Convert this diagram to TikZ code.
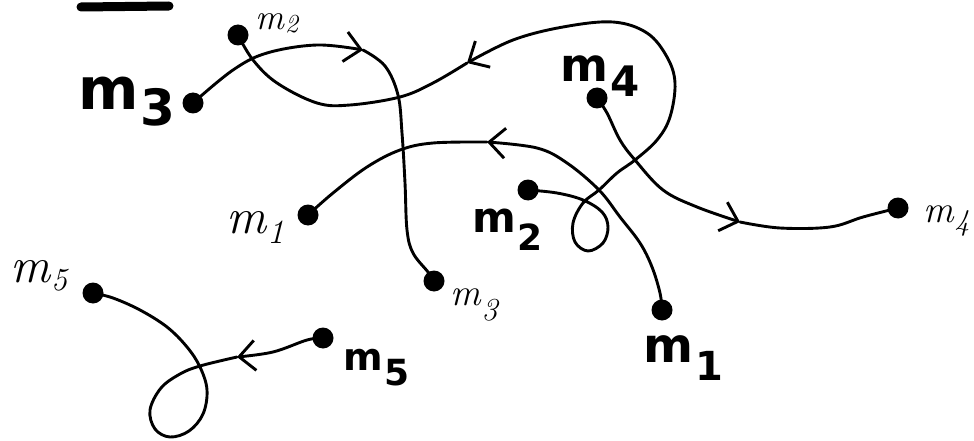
\documentclass[tikz,border=0pt]{standalone}
\usepackage{fontspec}
\newfontfamily\handbold{DejaVu Sans}
\usetikzlibrary{arrows.meta}
\tikzset{
  curve/.style={line width=2.9pt, line cap=round, line join=round},
  headed/.style={curve, -{Straight Barb[length=16pt, width=30pt]}},
  dot/.style={circle, fill=black, inner sep=0pt, minimum size=21pt},
  lab/.style={inner sep=0pt, anchor=base west},
}
\newcommand\BLab[4]{{\fontsize{#1}{#1}\selectfont\handbold\bfseries m}\kern2pt\raisebox{-#3}{\fontsize{#2}{#2}\selectfont\handbold\bfseries #4}}
\newcommand\TLab[4]{{\fontsize{#1}{#1}\selectfont\itshape m}\kern1pt\raisebox{-#3}{\fontsize{#2}{#2}\selectfont\itshape #4}}
\begin{document}
\begin{tikzpicture}[x=1pt,y=-1pt]
\useasboundingbox (0,0) rectangle (974,441);
% title bar
\coordinate (barL) at (81,7);
\coordinate (barR) at (169,6);
\draw[line width=9pt, line cap=round] (barL) -- (barR);

% start dots (bold) and end dots (thin)
\node[dot] (s3) at (193,103) {};
\node[dot] (e3) at (434,281) {};
\node[dot] (s2) at (528,190) {};
\node[dot] (e2) at (238,35) {};
\node[dot] (s1) at (662,310) {};
\node[dot] (e1) at (308,215) {};
\node[dot] (s4) at (597,98) {};
\node[dot] (e4) at (898,208) {};
\node[dot] (s5) at (323,338) {};
\node[dot] (e5) at (93,293) {};

% labels
\node[lab] (L3) at (78,110) {\BLab{58}{50}{16pt}{3}};
\node[lab] (L4) at (560,82) {\BLab{46}{42}{15pt}{4}};
\node[lab] (L2) at (472,232) {\BLab{42}{36}{18pt}{2}};
\node[lab] (L1) at (643,362) {\BLab{48}{40}{18pt}{1}};
\node[lab] (L5) at (343,370) {\BLab{38}{36}{15pt}{5}};
\node[lab] (T2) at (255,30) {\TLab{36}{26}{3pt}{2}};
\node[lab] (T1) at (226,233) {\TLab{50}{34}{10pt}{1}};
\node[lab] (T3) at (450,305) {\TLab{38}{32}{15pt}{3}};
\node[lab] (T4) at (923,222) {\TLab{38}{30}{8pt}{4}};
\node[lab] (T5) at (10,282) {\TLab{50}{32}{8pt}{5}};

% arrow points
\coordinate (a3) at (363,50);
\coordinate (a2) at (467,63);
\coordinate (a1) at (487,142);
\coordinate (a4) at (740,222);
\coordinate (a5) at (237,357);

% m3
\draw[headed] plot[smooth, tension=0.6] coordinates {(s3) (233,70) (267,53) (317,45) (a3)};
\draw[curve] plot[smooth, tension=0.6] coordinates {(a3) (385,66) (398,95) (402,133) (405,183) (407,230) (413,253) (428,272) (e3)};
% m2
\draw[headed] plot[smooth, tension=0.6] coordinates {(s2) (557,193) (583,200) (602,212) (608,227) (603,243) (588,251) (575,242) (573,223) (583,203) (599,190) (617,173) (635,160) (657,140) (670,117) (675,83) (667,57) (647,33) (613,22) (563,27) (513,40) (a2)};
\draw[curve] plot[smooth, tension=0.6] coordinates {(a2) (433,83) (400,97) (350,105) (317,103) (277,83) (253,60) (e2)};
% m1
\draw[headed] plot[smooth, tension=0.6] coordinates {(s1) (660,293) (652,267) (640,243) (620,217) (599,190) (567,163) (537,148) (a1)};
\draw[curve] plot[smooth, tension=0.6] coordinates {(a1) (433,143) (400,150) (367,167) (333,193) (e1)};
% m4
\draw[headed] plot[smooth, tension=0.6] coordinates {(s4) (607,113) (620,140) (635,160) (663,190) (697,207) (a4)};
\draw[curve] plot[smooth, tension=0.6] coordinates {(a4) (780,228) (830,227) (863,217) (e4)};
% m5
\draw[headed] plot[smooth, tension=0.6] coordinates {(s5) (307,340) (273,352) (a5)};
\draw[curve] plot[smooth, tension=0.6] coordinates {(a5) (200,366) (180,374) (161,388) (150,410) (155,429) (170,437) (189,431) (203,414) (207,390) (200,367) (187,347) (167,327) (140,310) (113,298) (e5)};
\end{tikzpicture}
\end{document}
